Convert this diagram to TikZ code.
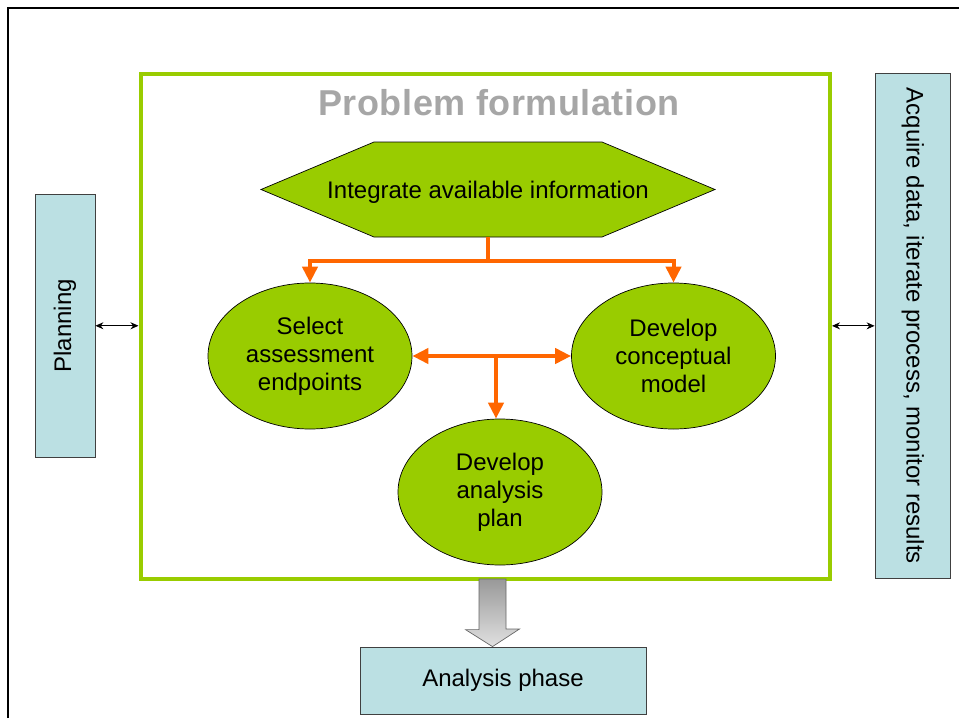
\documentclass[tikz,border=0pt]{standalone}
\usepackage{fontspec}
\setmainfont{Liberation Sans}
\newfontfamily\titlefont[LetterSpace=1.5]{Liberation Sans}
\usetikzlibrary{arrows.meta,calc,positioning,shapes.geometric}
\pgfdeclarelayer{background}
\pgfsetlayers{background,main}
\definecolor{leafgreen}{HTML}{99CC00}
\definecolor{flame}{HTML}{FF6600}
\definecolor{paleblue}{HTML}{BBE0E3}
\definecolor{titlegray}{HTML}{A6A6A6}
\tikzset{
	every node/.style={font=\fontsize{24}{28}\selectfont},
	stepnode/.style={ellipse, draw=black, line width=0.7pt, fill=leafgreen, minimum width=204pt, minimum height=146pt, inner sep=0pt, align=center},
	sidebox/.style={draw=black!75, line width=0.8pt, fill=paleblue, inner sep=0pt, align=center},
	flow/.style={draw=flame, line width=4pt, -{Triangle[length=16pt,width=15pt]}},
	link/.style={line width=0.9pt, {Stealth[length=8pt,width=7pt]}-{Stealth[length=8pt,width=7pt]}}
}

\begin{document}
\begin{tikzpicture}[x=1pt,y=-1pt]
	\useasboundingbox (0,0) rectangle (959,718);
	\draw [line width=2pt] (8.3,718) -- (8.3,8.3) -- (959,8.3);
	
	% Place nodes
	\node [draw=leafgreen, line width=4pt, minimum width=689.5pt, minimum height=504.7pt, inner sep=0pt] (frame) at (485.25,326.35) {};
	\node [anchor=base, text=titlegray, font=\titlefont\bfseries\fontsize{36}{42}\selectfont] (title) at (499,115) {Problem formulation};
	\node [minimum width=454pt, minimum height=95pt, inner sep=0pt, outer sep=0pt, text depth=0pt] (integrate) at (488,189.5) {Integrate available information};
	\node [stepnode] (select) at (310,356) {Select\\assessment\\endpoints};
	\node [stepnode] (conceptual) at (673.5,356) {Develop\\conceptual\\model};
	\node [stepnode] (plan) at (500,492) {Develop\\analysis\\plan};
	\node [sidebox, rotate=90, minimum width=263.5pt, minimum height=60pt] (planning) at (65,325.75) {Planning};
	\node [sidebox, rotate=-90, minimum width=505.7pt, minimum height=75.5pt] (acquire) at (912.75,325.85) {Acquire data, iterate process, monitor results};
	\node [sidebox, minimum width=286pt, minimum height=67pt] (analysis) at (503,680.5) {Analysis phase};
	
	\begin{pgfonlayer}{background}
		\filldraw [fill=leafgreen, draw=black, line width=0.7pt] (integrate.west) -- ([xshift=113pt]integrate.north west) -- ([xshift=-113pt]integrate.north east) -- (integrate.east) -- ([xshift=-113pt]integrate.south east) -- ([xshift=113pt]integrate.south west) -- cycle;
	\end{pgfonlayer}
	
	% Draw edges
	\coordinate (split) at (488,261);
	\coordinate (hub) at (496,356);
	\coordinate (outlet) at (492.5,579);
	\draw [flow] (integrate.south) -- (split) -| (select.north);
	\draw [flow] (split) -| (conceptual.north);
	\draw [flow, {Triangle[length=16pt,width=15pt]}-{Triangle[length=16pt,width=15pt]}] (select.east) -- (conceptual.west);
	\draw [flow] (hub) -- (hub |- plan.north);
	\draw [link] (planning.south) -- (planning.south -| frame.west);
	\draw [link] (acquire.south) -- (acquire.south -| frame.east);
	\shade [top color=black!40, bottom color=black!12, draw=black!60, line width=0.7pt] ($(outlet)+(-13.5,0)$) -- ++(27,0) -- ++(0,50) -- ++(13.5,0) -- (outlet |- analysis.north) -- ++(-27,-17) -- ++(13.5,0) -- cycle;
\end{tikzpicture}
\end{document}
